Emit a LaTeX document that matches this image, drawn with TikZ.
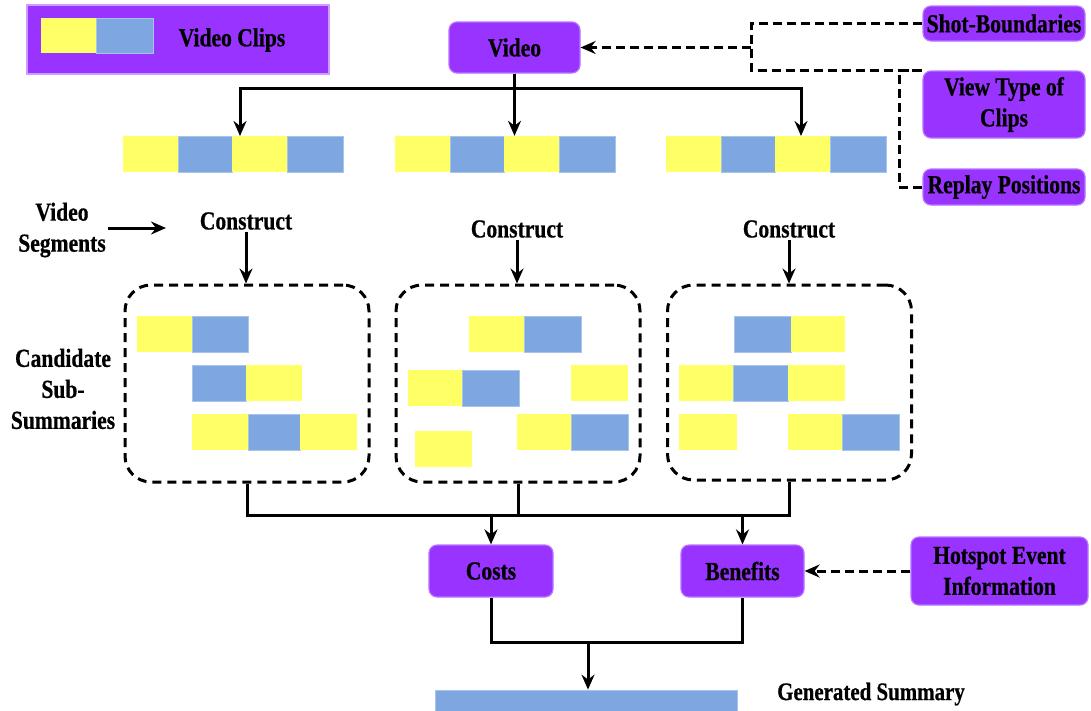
\documentclass[tikz,border=0pt]{standalone}
\usepackage{fontspec}
\setmainfont{Liberation Serif}[FakeStretch=0.83, BoldFont={Liberation Serif Bold}, BoldFeatures={FakeStretch=0.83, FakeBold=0.6}]
\usetikzlibrary{arrows.meta}
\definecolor{vpurple}{HTML}{9933FF}
\definecolor{vedge}{HTML}{B873FF}
\definecolor{vyellow}{HTML}{FFFF66}
\definecolor{vblue}{HTML}{7EA6E0}
\definecolor{vblueedge}{HTML}{A9C4EB}
\tikzset{
  lbl/.style={font=\bfseries\fontsize{26}{31}\selectfont, align=center, inner sep=2pt},
  pbox/.style={lbl, draw=vedge, line width=1.2pt, fill=vpurple, rounded corners=8pt},
  grp/.style={draw=black, line width=3pt, dash pattern=on 9pt off 6pt, rounded corners=26pt},
  conn/.style={draw=black, line width=3pt},
  arr/.style={conn, -{Stealth[length=15pt,width=13pt,inset=5pt]}},
  dconn/.style={conn, dash pattern=on 9pt off 5pt},
  darr/.style={dconn, -{Stealth[length=15pt,width=13pt,inset=5pt]}},
  yc/.style={fill=vyellow},
  bc/.style={fill=vblue, draw=vblueedge, line width=0.8pt},
}
% a clip cell: \clipcell{style}{x1}{x2}{y1}{y2}
\newcommand{\clipcell}[5]{\path[#1] (#2,#4) rectangle (#3,#5);}
\begin{document}
\begin{tikzpicture}[x=1pt,y=-1pt]
\useasboundingbox (0,0) rectangle (1091,710);

% legend
\node[draw=vedge!70!white, line width=1.5pt, fill=vpurple, minimum width=302pt, minimum height=69pt, inner sep=0pt] (legend) at (178,39.5) {};
\clipcell{yc}{41}{96}{18}{53}
\clipcell{bc}{96}{153}{18}{53}
\node[lbl] (legendtxt) at (232,40) {Video Clips};

% source and side inputs
\node[pbox, minimum width=131pt, minimum height=51pt] (video) at (514.5,47.5) {Video};
\node[pbox, minimum width=162pt, minimum height=35pt] (shot) at (1004,23.5) {Shot-Boundaries};
\node[pbox, minimum width=162pt, minimum height=67pt] (view) at (1004,104.5) {View Type of\\Clips};
\node[pbox, minimum width=162pt, minimum height=36pt] (replay) at (1004,187) {Replay Positions};

\draw[dconn] (shot.west) -- ++(-171,0) coordinate (ja) -- (ja |- view.north) -- (view.north west);
\draw[dconn] (replay.west) -- ++(-23,0) |- (view.north west);
\draw[darr] (ja |- video.east) -- (video.east);

% segmented video strips
\node[inner sep=0pt, minimum width=220pt, minimum height=36pt] (s1) at (233,154) {};
\node[inner sep=0pt, minimum width=219pt, minimum height=36pt] (s2) at (504.5,154) {};
\node[inner sep=0pt, minimum width=220pt, minimum height=36pt] (s3) at (776,154) {};
\foreach \x in {123,395,666}{
  \clipcell{yc}{\x}{\x+55}{136}{172}
  \clipcell{bc}{\x+55}{\x+109}{136}{172}
  \clipcell{yc}{\x+109}{\x+164}{136}{172}
  \clipcell{bc}{\x+164}{\x+220}{136}{172}
}
\coordinate (t1) at (240,136);
\coordinate (t3) at (801,136);
\draw[arr] (video.south) -- ++(0,15) -| (t1);
\draw[arr] (video.south) -- ++(0,15) -| (t3);
\draw[arr] (video.south) -- (video.south |- s2.north);

% construction step
\node[lbl] (vs) at (62,230) {Video\\Segments};
\coordinate (vsend) at (166,228);
\draw[arr] (vs.east |- vsend) -- (vsend);
\node[lbl] (c1) at (246,221) {Construct};
\node[lbl] (c2) at (517,229) {Construct};
\node[lbl] (c3) at (789,229) {Construct};

\node[grp, minimum width=244pt, minimum height=197pt] (g1) at (247,383.5) {};
\node[grp, minimum width=244pt, minimum height=197pt] (g2) at (518,383.5) {};
\node[grp, minimum width=244pt, minimum height=195pt] (g3) at (789.5,382.5) {};
\draw[arr] (c1.south) -- (c1.south |- g1.north);
\draw[arr] (c2.south) -- (c2.south |- g2.north);
\draw[arr] (c3.south) -- (c3.south |- g3.north);

\node[lbl] (cand) at (63,389) {Candidate\\Sub-\\Summaries};

% candidate sub-summaries, group 1
\clipcell{yc}{137}{192}{316}{352}
\clipcell{bc}{192}{248}{316}{352}
\clipcell{bc}{192}{246}{365}{401}
\clipcell{yc}{246}{302}{365}{401}
\clipcell{yc}{192}{248}{414}{450}
\clipcell{bc}{248}{300}{414}{450}
\clipcell{yc}{300}{357}{414}{450}
% group 2
\clipcell{yc}{469}{524}{316}{352}
\clipcell{bc}{524}{581}{316}{352}
\clipcell{yc}{408}{462}{370}{406}
\clipcell{bc}{462}{519}{370}{406}
\clipcell{yc}{571}{628}{365}{401}
\clipcell{yc}{517}{571}{414}{450}
\clipcell{bc}{571}{628}{414}{450}
\clipcell{yc}{415}{472}{431}{467}
% group 3
\clipcell{bc}{734}{791}{316}{352}
\clipcell{yc}{791}{845}{316}{352}
\clipcell{yc}{679}{733}{365}{401}
\clipcell{bc}{733}{788}{365}{401}
\clipcell{yc}{788}{845}{365}{401}
\clipcell{yc}{679}{737}{414}{450}
\clipcell{yc}{788}{842}{414}{450}
\clipcell{bc}{842}{899}{414}{450}

% evaluation
\node[pbox, minimum width=124pt, minimum height=52pt] (costs) at (491,571) {Costs};
\node[pbox, minimum width=123pt, minimum height=52pt] (benefits) at (742.5,571) {Benefits};
\node[pbox, minimum width=177pt, minimum height=68pt] (hot) at (999.5,571) {Hotspot Event\\Information};

\draw[conn] (g1.south) -- ++(0,32) coordinate (jl) -| (g3.south);
\draw[conn] (g2.south) -- (g2.south |- jl);
\draw[arr] (jl -| costs.north) -- (costs.north);
\draw[arr] (jl -| benefits.north) -- (benefits.north);
\draw[darr] (hot.west) -- (benefits.east);

% output
\node[fill=vblue, draw=vblueedge, line width=0.8pt, inner sep=0pt, minimum width=302pt, minimum height=22pt] (summ) at (586,701) {};
\node[lbl, font=\bfseries\fontsize{25.2}{29}\selectfont] (summtxt) at (871,694) {Generated Summary};
\draw[conn] (costs.south) -- ++(0,45) coordinate (jb) -| (benefits.south);
\coordinate (mj) at (588,0);
\draw[arr] (mj |- jb) -- (mj |- summ.north);
\end{tikzpicture}
\end{document}
